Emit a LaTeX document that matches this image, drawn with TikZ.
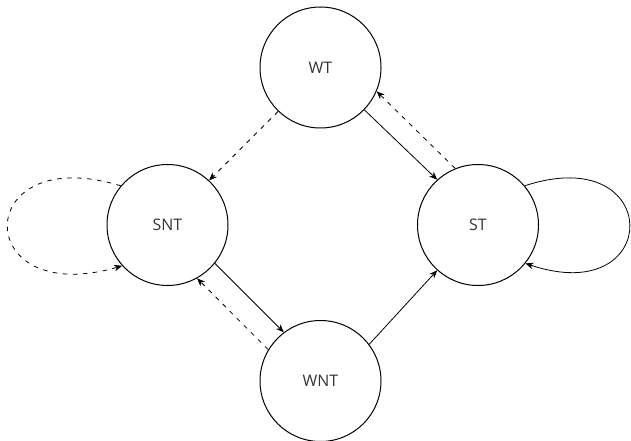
\documentclass[tikz,border=0pt]{standalone}
\usepackage{fontspec}
\setmainfont{Open Sans}
\usetikzlibrary{arrows.meta}
\definecolor{labelgray}{HTML}{333333}
\begin{document}
\begin{tikzpicture}[x=1bp,y=-1bp,
  state/.style={circle,draw=black,line width=1bp,minimum size=121bp,inner sep=0pt,
    font=\fontsize{16}{19}\selectfont,text=labelgray},
  link/.style={line width=0.8bp,-{Stealth[length=8bp,width=6.5bp,inset=2.5bp]}},
  backlink/.style={link,dash pattern=on 4.5bp off 5.5bp}]
\useasboundingbox (0,0) rectangle (631,441);

% states of the two-bit predictor
\node[state] (WT)  at (320.5,67.5) {WT};
\node[state] (SNT) at (167.5,225) {SNT};
\node[state] (ST)  at (478,225)   {ST};
\node[state] (WNT) at (320.5,381) {WNT};

% taken transitions
\draw[link] (WT.316) -- (ST.132);
\draw[link] (SNT.321) -- (WNT.127);
\draw[link] (WNT.37) -- (ST.228);
\draw[link] (ST.40) .. controls (664,140) and (664,310) .. (ST.321);

% not-taken transitions
\draw[backlink] (WT.226) -- (SNT.47);
\draw[backlink] (ST.112) -- (WT.337);
\draw[backlink] (WNT.149) -- (SNT.299);
\draw[backlink] (SNT.140) .. controls (-30,140) and (-30,310) .. (SNT.222);
\end{tikzpicture}
\end{document}
